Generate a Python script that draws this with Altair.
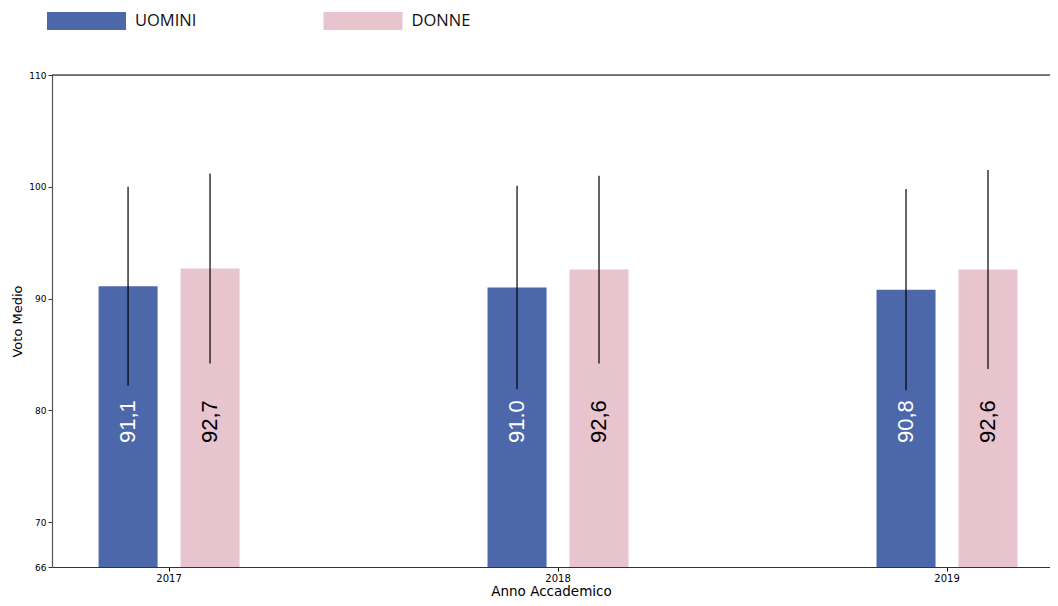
import altair as alt
import pandas as pd

years = ["2017", "2018", "2019"]
sexes = ["UOMINI", "DONNE"]
uomini_mean = [91.1, 91.0, 90.8]
donne_mean = [92.7, 92.6, 92.6]
uomini_sd = [8.9, 9.1, 9.0]
donne_sd = [8.5, 8.4, 8.9]
uomini_labels = ["91,1", "91.0", "90,8"]
donne_labels = ["92,7", "92,6", "92,6"]
y_ticks = [66, 70, 80, 90, 100, 110]

BLUE = "#4C68AA"
PINK = "#E8C4CE"

rows = []
for i, yr in enumerate(years):
    rows.append({"year": yr, "sex": "UOMINI", "mean": uomini_mean[i],
                 "lo": uomini_mean[i] - uomini_sd[i], "hi": uomini_mean[i] + uomini_sd[i],
                 "label": uomini_labels[i]})
    rows.append({"year": yr, "sex": "DONNE", "mean": donne_mean[i],
                 "lo": donne_mean[i] - donne_sd[i], "hi": donne_mean[i] + donne_sd[i],
                 "label": donne_labels[i]})
df = pd.DataFrame(rows)

x_enc = alt.X("year:N", sort=years,
              scale=alt.Scale(paddingInner=0.6375, paddingOuter=0.1016, align=0.589),
              axis=alt.Axis(title="Anno Accademico", labelAngle=0, labelFont="DejaVu Sans",
                            labelFontSize=10, labelColor="#000", titleFont="DejaVu Sans",
                            titleFontSize=13.5, titleFontWeight="normal", titleColor="#000",
                            titlePadding=1, tickSize=4, tickColor="#000", labelPadding=2,
                            domainColor="#333", domainWidth=1.2))
xo_enc = alt.XOffset("sex:N", sort=sexes, scale=alt.Scale(paddingInner=0.28, paddingOuter=0))
y_scale = alt.Scale(domain=[66, 110], zero=False, nice=False)

base = alt.Chart(df)

bars = base.mark_bar(clip=True).encode(
    x=x_enc,
    xOffset=xo_enc,
    y=alt.Y("mean:Q", scale=y_scale,
            axis=alt.Axis(title="Voto Medio", values=y_ticks, grid=False,
                          labelFont="DejaVu Sans", labelFontSize=9, labelColor="#000",
                          titleFont="DejaVu Sans", titleFontSize=13, titleFontWeight="normal",
                          titleColor="#000", titlePadding=4, tickSize=4, tickColor="#333",
                          domainColor="#555", domainWidth=1.2, labelPadding=2)),
    color=alt.Color("sex:N", sort=sexes,
                    scale=alt.Scale(domain=sexes, range=[BLUE, PINK]),
                    legend=alt.Legend(title=None, orient="none", direction="horizontal",
                                      legendX=25.5, legendY=-63, padding=0,
                                      symbolType="M-4.389,-1H4.389V1H-4.389Z",
                                      symbolSize=324, symbolStrokeWidth=0,
                                      symbolOpacity=1, labelFont="Open Sans",
                                      labelFontSize=16.5, labelColor="#111",
                                      labelOffset=39.5, columnPadding=126.5)),
)

errs = base.mark_rule(color="black", strokeWidth=1.5, opacity=0.8).encode(
    x=alt.X("year:N", sort=years),
    xOffset=alt.XOffset("sex:N", sort=sexes),
    y=alt.Y("lo:Q", scale=y_scale),
    y2="hi:Q",
)

labels = base.mark_text(angle=270, align="center", baseline="middle",
                        font="Liberation Sans", fontSize=22).encode(
    x=alt.X("year:N", sort=years),
    xOffset=alt.XOffset("sex:N", sort=sexes),
    y=alt.datum(79),
    text="label:N",
    color=alt.condition(alt.datum.sex == "UOMINI", alt.value("white"), alt.value("black")),
)

top_line = alt.Chart(pd.DataFrame({"v": [110]})).mark_rule(color="black", strokeWidth=1.2).encode(
    y=alt.Y("v:Q", scale=y_scale)
)

chart = alt.layer(bars, errs, labels, top_line).properties(
    width=998, height=492,
    autosize=alt.AutoSizeParams(type="none"),
    padding={"left": 44, "top": 67, "right": 0, "bottom": 31},
).configure_view(stroke=None).configure(background="white")

chart.save("out.html", embed_options={"renderer": "svg", "actions": False})
